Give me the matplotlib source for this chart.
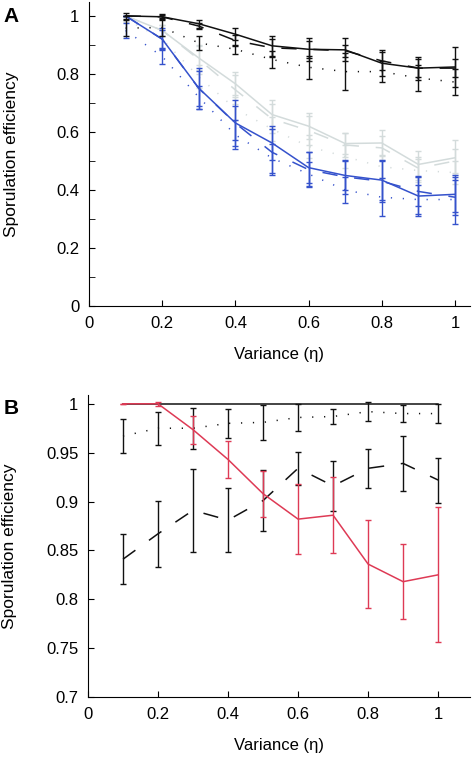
import matplotlib
matplotlib.use("Agg")
import matplotlib.pyplot as plt
from matplotlib.ticker import MultipleLocator

plt.rcParams["font.family"] = ["Liberation Sans", "DejaVu Sans"]

# ============================================================
# 数据
# ============================================================
eta = [0.1, 0.2, 0.3, 0.4, 0.5, 0.6, 0.7, 0.8, 0.9, 1.0]
x_ticks = [0, 0.2, 0.4, 0.6, 0.8, 1.0]
x_labels = ["0", "0.2", "0.4", "0.6", "0.8", "1"]

# Panel A
a_black_solid = [1.0, 0.997, 0.973, 0.937, 0.897, 0.885, 0.883, 0.837, 0.82, 0.824]
a_black_solid_err = [0.0, 0.005, 0.013, 0.02, 0.034, 0.04, 0.04, 0.045, 0.04, 0.07]
a_black_dash = [1.0, 0.997, 0.965, 0.915, 0.89, 0.885, 0.88, 0.845, 0.82, 0.82]
a_black_dash_err = [0.01, 0.01, 0.01, 0.02, 0.03, 0.03, 0.02, 0.03, 0.03, 0.03]
a_black_dot = [0.958, 0.96, 0.907, 0.885, 0.85, 0.823, 0.808, 0.808, 0.786, 0.772]
a_black_dot_err = [0.028, 0.03, 0.024, 0.015, 0.03, 0.04, 0.065, 0.035, 0.045, 0.045]

a_gray_solid = [1.0, 0.95, 0.855, 0.766, 0.66, 0.62, 0.56, 0.562, 0.488, 0.511]
a_gray_solid_err = [0.0, 0.02, 0.04, 0.04, 0.05, 0.045, 0.035, 0.045, 0.045, 0.06]
a_gray_dash = [1.0, 0.95, 0.85, 0.745, 0.645, 0.605, 0.555, 0.545, 0.475, 0.50]
a_gray_dash_err = [0.0, 0.02, 0.05, 0.05, 0.05, 0.05, 0.04, 0.04, 0.04, 0.04]
a_gray_dot = [0.99, 0.92, 0.79, 0.68, 0.61, 0.55, 0.515, 0.48, 0.467, 0.46]
a_gray_dot_err = [0.01, 0.03, 0.04, 0.04, 0.04, 0.04, 0.04, 0.04, 0.04, 0.04]

a_blue_solid = [1.0, 0.92, 0.751, 0.631, 0.562, 0.477, 0.45, 0.434, 0.379, 0.385]
a_blue_solid_err = [0.0, 0.037, 0.06, 0.06, 0.06, 0.053, 0.05, 0.07, 0.07, 0.06]
a_blue_dash = [1.0, 0.92, 0.75, 0.63, 0.53, 0.47, 0.445, 0.43, 0.395, 0.375]
a_blue_dash_err = [0.0, 0.03, 0.07, 0.08, 0.08, 0.06, 0.06, 0.07, 0.05, 0.06]
a_blue_dot = [0.95, 0.86, 0.72, 0.59, 0.51, 0.455, 0.40, 0.375, 0.367, 0.367]
a_blue_dot_err = [0.025, 0.026, 0.04, 0.05, 0.05, 0.04, 0.046, 0.065, 0.05, 0.085]

a_yticks = [0, 0.2, 0.4, 0.6, 0.8, 1.0]
a_ylabels = ["0", "0.2", "0.4", "0.6", "0.8", "1"]

# Panel B
b_black_solid = [1.0, 1.0, 1.0, 1.0, 1.0, 1.0, 1.0, 1.0, 1.0, 1.0]
b_black_dot = [0.967, 0.975, 0.975, 0.98, 0.981, 0.986, 0.987, 0.992, 0.99, 0.99]
b_black_dot_err = [0.0175, 0.017, 0.021, 0.015, 0.018, 0.0135, 0.008, 0.01, 0.0085, 0.0095]
b_black_dash = [0.841, 0.867, 0.891, 0.881, 0.901, 0.934, 0.916, 0.934, 0.939, 0.922]
b_black_dash_err = [0.0255, 0.034, 0.0425, 0.0325, 0.031, 0.017, 0.0255, 0.02, 0.028, 0.023]
b_red = [1.0, 1.0, 0.9735, 0.943, 0.908, 0.882, 0.886, 0.836, 0.818, 0.825]
b_red_err = [0.0, 0.002, 0.0145, 0.019, 0.0235, 0.036, 0.039, 0.045, 0.0385, 0.069]

b_yticks = [0.7, 0.75, 0.8, 0.85, 0.9, 0.95, 1.0]
b_ylabels = ["0.7", "0.75", "0.8", "0.85", "0.9", "0.95", "1"]

BLACK = "#111111"
GRAY = "#d3dbdb"
BLUE = "#3552cc"
RED = "#de3a55"

SOLID = "-"
DASH = (0, (10, 11))
DOT = (0, (0.8, 7))


def series(ax, y, err, color, ls, lw=1.1):
    if err is not None:
        ax.errorbar(eta, y, yerr=err, fmt="none", ecolor=color,
                    elinewidth=1.0, capsize=2.5, capthick=1.0)
    ax.plot(eta, y, color=color, linestyle=ls, lw=lw)


def style(ax):
    for s in ["top", "right"]:
        ax.spines[s].set_visible(False)
    ax.tick_params(direction="in", length=4, labelsize=12, pad=7)
    ax.tick_params(which="minor", direction="in", length=4)
    ax.set_xlabel("Variance (\u03b7)", fontsize=12, labelpad=12)
    ax.set_ylabel("Sporulation efficiency", fontsize=12.5)
    ax.yaxis.set_label_coords(-0.185, 0.5)


fig = plt.figure(figsize=(4.75, 7.6), dpi=100)

# ============================================================
# A
# ============================================================
ax = fig.add_axes([89 / 475, 1 - 306 / 760, 381 / 475, 304 / 760])
series(ax, a_gray_dot, a_gray_dot_err, GRAY, DOT)
series(ax, a_gray_dash, a_gray_dash_err, GRAY, DASH)
series(ax, a_gray_solid, a_gray_solid_err, GRAY, SOLID)
series(ax, a_blue_dot, a_blue_dot_err, BLUE, DOT)
series(ax, a_blue_dash, a_blue_dash_err, BLUE, DASH)
series(ax, a_blue_solid, a_blue_solid_err, BLUE, SOLID)
series(ax, a_black_dot, a_black_dot_err, BLACK, DOT)
series(ax, a_black_dash, a_black_dash_err, BLACK, DASH)
series(ax, a_black_solid, a_black_solid_err, BLACK, SOLID)
ax.set_xlim(0, 1.041)
ax.set_ylim(0, 1.048)
ax.set_xticks(x_ticks, x_labels)
ax.set_yticks(a_yticks, a_ylabels)
ax.yaxis.set_minor_locator(MultipleLocator(0.1))
style(ax)
fig.text(0.008, 1 - 17 / 760, "A", fontsize=15, fontweight="bold", va="center")

# ============================================================
# B
# ============================================================
ax = fig.add_axes([88 / 475, 1 - 697 / 760, 382 / 475, 302 / 760])
series(ax, b_black_dot, b_black_dot_err, BLACK, DOT)
series(ax, b_black_dash, b_black_dash_err, BLACK, DASH)
series(ax, b_black_solid, None, BLACK, SOLID)
series(ax, b_red, b_red_err, RED, SOLID)
ax.set_xlim(0, 1.091)
ax.set_ylim(0.7, 1.009)
ax.set_xticks(x_ticks, x_labels)
ax.set_yticks(b_yticks, b_ylabels)
style(ax)
fig.text(0.008, 1 - 408 / 760, "B", fontsize=15, fontweight="bold", va="center")

fig.savefig("out.png", dpi=100)
